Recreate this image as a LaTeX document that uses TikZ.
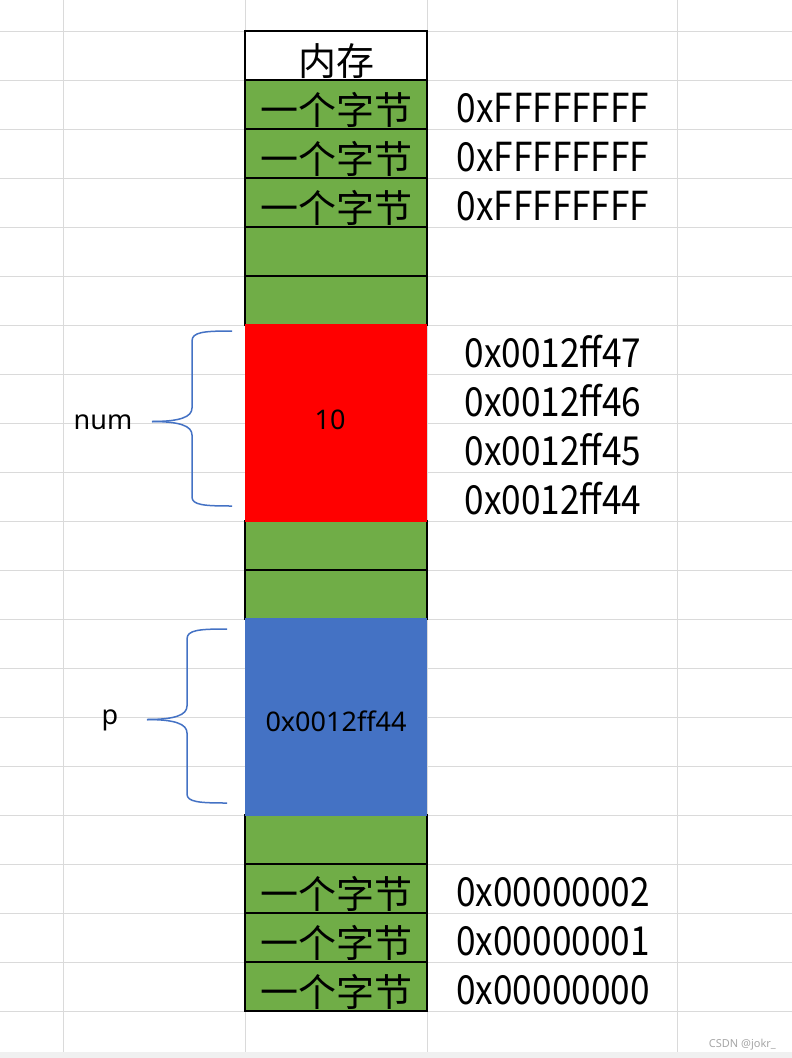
\documentclass[tikz,border=0pt]{standalone}
\usepackage{fontspec}
\setmainfont{Noto Sans CJK SC}
\newfontfamily\latinfont{Noto Sans}
\newfontfamily\addrfont[FakeStretch=0.88]{Noto Sans CJK SC}
\definecolor{cellgreen}{HTML}{70AD47}
\definecolor{cellblue}{HTML}{4472C4}
\definecolor{gridgray}{HTML}{DADADA}
\tikzset{
  gridline/.style={gridgray, line width=1pt},
  memcell/.style={draw=black, line width=1.2pt, minimum width=182pt, minimum height=49pt,
    inner sep=0pt, text height=39pt, text depth=0pt, font=\fontsize{38}{40}\selectfont},
  bytecell/.style={memcell, fill=cellgreen},
  block/.style={minimum width=182pt, minimum height=197.5pt, inner sep=0pt},
  addr/.style={inner sep=0pt, text height=35pt, text depth=0pt, font=\addrfont\fontsize{40}{44}\selectfont},
  varname/.style={anchor=base, inner sep=0pt, font=\latinfont\fontsize{27}{30}\selectfont},
  bracket/.style={cellblue, line width=1.5pt},
}
\begin{document}
\begin{tikzpicture}[x=1pt, y=-1pt]
\useasboundingbox (0,0) rectangle (792,1058);

% spreadsheet grid
\foreach \y in {31,80,...,1011}
  \draw [gridline] (0,\y) -- (792,\y);
\foreach \x in {63,245,427,677}
  \draw [gridline] (\x,0) -- (\x,1052);
\fill [gray!12] (0,1052) rectangle (792,1058);

% memory column
\node (head) [memcell, fill=white] at (336,55.5) {内存};
\foreach \top/\name/\txt in {80/top1/一个字节, 129/top2/一个字节, 178/top3/一个字节,
    227/mid1/, 276/mid2/, 521/mid3/, 570/mid4/, 815/low1/,
    864/low2/一个字节, 913/low3/一个字节, 962/low4/一个字节}
  \node (\name) [bytecell] at (336,\top+24.5) {\txt};

\node (num) [block, fill=red] at (336,423) {};
\node (ptr) [block, fill=cellblue] at (336,717) {};
\node (numval) [varname] at (330,429) {10};
\node (ptrval) [varname] at (336,731) {0x0012ff44};

% addresses
\node (ff1) [addr] at (553,104.5) {0xFFFFFFFF};
\node (ff2) [addr] at (553,153.5) {0xFFFFFFFF};
\node (ff3) [addr] at (553,202.5) {0xFFFFFFFF};
\node (a47) [addr] at (553,349.5) {0x0012ff47};
\node (a46) [addr] at (553,398.5) {0x0012ff46};
\node (a45) [addr] at (553,447.5) {0x0012ff45};
\node (a44) [addr] at (553,496.5) {0x0012ff44};
\node (z2) [addr] at (553,888.5) {0x00000002};
\node (z1) [addr] at (553,937.5) {0x00000001};
\node (z0) [addr] at (553,986.5) {0x00000000};

% variable names and braces
\node (numname) [varname] at (103,429) {num};
\node (pname) [varname] at (110,724) {p};

\coordinate (numtip) at (152,421.5);
\coordinate (ptip) at (147,719.5);
\draw [bracket] (232,331) .. controls (204,331) and (192,332) .. (192,341) -- (192,408)
  .. controls (192,417) and (180,421.5) .. (numtip);
\draw [bracket] (numtip) .. controls (180,421.5) and (192,426) .. (192,435) -- (192,497)
  .. controls (192,505) and (204,506) .. (232,506);
\draw [bracket] (227,629) .. controls (199,629) and (187,630) .. (187,639) -- (187,706)
  .. controls (187,715) and (175,719.5) .. (ptip);
\draw [bracket] (ptip) .. controls (175,719.5) and (187,724) .. (187,733) -- (187,794)
  .. controls (187,802) and (199,803) .. (227,803);

\node (mark) [anchor=base east, inner sep=0pt, text=gray!70, font=\latinfont\fontsize{11}{12}\selectfont]
  at (776,1047) {CSDN @jokr\_};

\end{tikzpicture}
\end{document}
